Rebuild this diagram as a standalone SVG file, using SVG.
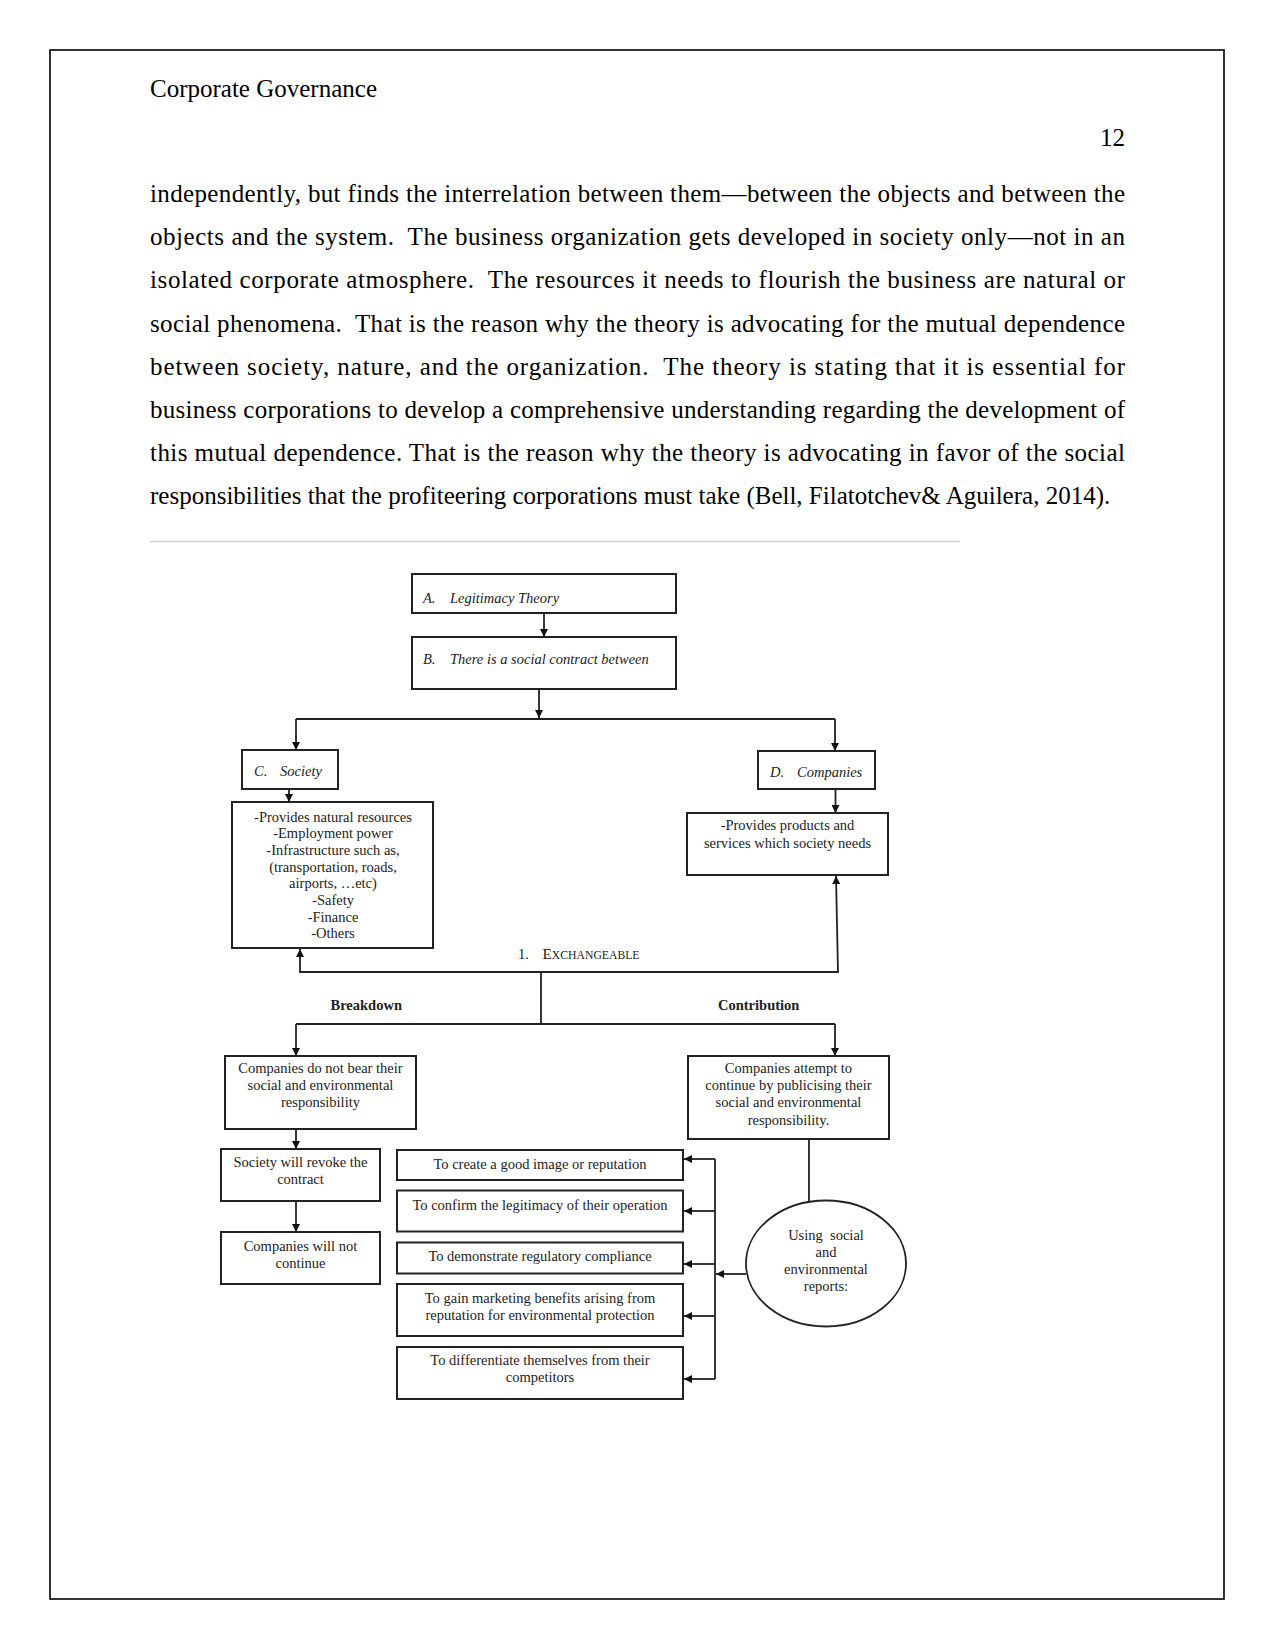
<svg xmlns="http://www.w3.org/2000/svg" width="1275" height="1651" viewBox="0 0 1275 1651">
<style>
.body{font-family:"Liberation Serif","Times New Roman",serif;font-size:25px;fill:#000}
.t{font-family:"Liberation Serif","Times New Roman",serif;font-size:14.5px;fill:#222;text-anchor:middle}
.it{font-family:"Liberation Serif","Times New Roman",serif;font-size:14.5px;font-style:italic;fill:#222}
.b{font-family:"Liberation Serif","Times New Roman",serif;font-size:14.5px;font-weight:bold;fill:#222}
.box{fill:#fff;stroke:#222;stroke-width:2}
.c{fill:none;stroke:#222;stroke-width:1.8}
.ca{fill:none;stroke:#222;stroke-width:1.8;marker-end:url(#ah)}
</style>
<defs>
<marker id="ah" markerUnits="userSpaceOnUse" markerWidth="9" markerHeight="8" refX="8" refY="4" orient="auto">
<path d="M0,0 L8,4 L0,8 z" fill="#111"/>
</marker>
</defs>
<rect x="0" y="0" width="1275" height="1651" fill="#fff"/>
<rect x="50" y="50" width="1174" height="1549" fill="none" stroke="#000" stroke-width="1.6"/>
<g id="page-text">
<text class="body" x="150" y="97">Corporate Governance</text>
<text class="body" x="1125" y="146" text-anchor="end">12</text>
<text class="body" x="150" y="202" textLength="975" lengthAdjust="spacing">independently, but finds the interrelation between them—between the objects and between the</text>
<text class="body" x="150" y="245" textLength="975" lengthAdjust="spacing" xml:space="preserve">objects and the system.  The business organization gets developed in society only—not in an</text>
<text class="body" x="150" y="288" textLength="975" lengthAdjust="spacing" xml:space="preserve">isolated corporate atmosphere.  The resources it needs to flourish the business are natural or</text>
<text class="body" x="150" y="331.5" textLength="975" lengthAdjust="spacing" xml:space="preserve">social phenomena.  That is the reason why the theory is advocating for the mutual dependence</text>
<text class="body" x="150" y="374.5" textLength="975" lengthAdjust="spacing" xml:space="preserve">between society, nature, and the organization.  The theory is stating that it is essential for</text>
<text class="body" x="150" y="418" textLength="975" lengthAdjust="spacing">business corporations to develop a comprehensive understanding regarding the development of</text>
<text class="body" x="150" y="461" textLength="975" lengthAdjust="spacing">this mutual dependence. That is the reason why the theory is advocating in favor of the social</text>
<text class="body" x="150" y="504">responsibilities that the profiteering corporations must take (Bell, Filatotchev&amp; Aguilera, 2014).</text>
</g>
<line x1="150" y1="541.5" x2="960" y2="541.5" stroke="#d4d4d4" stroke-width="1.5"/>
<g id="connectors">
<line class="ca" x1="544" y1="613" x2="544" y2="637"/>
<line class="ca" x1="539" y1="689" x2="539" y2="718"/>
<line class="c" x1="296" y1="719" x2="835" y2="719"/>
<line class="ca" x1="296" y1="719" x2="296" y2="750"/>
<line class="ca" x1="835" y1="719" x2="835" y2="751"/>
<line class="ca" x1="289" y1="789" x2="289" y2="802"/>
<line class="ca" x1="835.5" y1="789" x2="835.5" y2="813"/>
<path class="ca" d="M541,972 H300 V949"/>
<path class="ca" d="M541,972 H838 L836,876"/>
<line class="c" x1="541" y1="972" x2="541" y2="1024"/>
<line class="c" x1="296" y1="1024" x2="835" y2="1024"/>
<line class="ca" x1="296" y1="1024" x2="296" y2="1056"/>
<line class="ca" x1="835" y1="1024" x2="835" y2="1056"/>
<line class="ca" x1="296" y1="1129" x2="296" y2="1149"/>
<line class="ca" x1="296" y1="1201" x2="296" y2="1232"/>
<line class="c" x1="809" y1="1139" x2="809" y2="1202"/>
<line class="ca" x1="746" y1="1274" x2="716" y2="1274"/>
<line class="c" x1="715" y1="1159" x2="715" y2="1379"/>
<line class="ca" x1="715" y1="1159" x2="684" y2="1159"/>
<line class="ca" x1="715" y1="1211" x2="684" y2="1211"/>
<line class="ca" x1="715" y1="1264" x2="684" y2="1264"/>
<line class="ca" x1="715" y1="1316" x2="684" y2="1316"/>
<line class="ca" x1="715" y1="1379" x2="684" y2="1379"/>
</g>
<g id="nodeA">
<rect class="box" x="412" y="574" width="264" height="39"/>
<text class="it" x="423" y="603">A.</text>
<text class="it" x="450" y="603">Legitimacy Theory</text>
</g>
<g id="nodeB">
<rect class="box" x="412" y="637" width="264" height="52"/>
<text class="it" x="423" y="664">B.</text>
<text class="it" x="450" y="664">There is a social contract between</text>
</g>
<g id="nodeC">
<rect class="box" x="242" y="750" width="96" height="39"/>
<text class="it" x="254" y="776">C.</text>
<text class="it" x="280" y="776">Society</text>
</g>
<g id="nodeD">
<rect class="box" x="758" y="751" width="117" height="38"/>
<text class="it" x="770" y="777">D.</text>
<text class="it" x="797" y="777">Companies</text>
</g>
<g id="society-list">
<rect class="box" x="232" y="802" width="201" height="146"/>
<text class="t" x="333" y="821.7">-Provides natural resources</text>
<text class="t" x="333" y="838.4">-Employment power</text>
<text class="t" x="333" y="855">-Infrastructure such as,</text>
<text class="t" x="333" y="871.7">(transportation, roads,</text>
<text class="t" x="333" y="888.3">airports, …etc)</text>
<text class="t" x="333" y="905">-Safety</text>
<text class="t" x="333" y="921.7">-Finance</text>
<text class="t" x="333" y="938.3">-Others</text>
</g>
<g id="companies-list">
<rect class="box" x="687" y="813" width="201" height="62"/>
<text class="t" x="787.5" y="830">-Provides products and</text>
<text class="t" x="787.5" y="847.5">services which society needs</text>
</g>
<g id="exchangeable">
<text x="518" y="959" font-family="Liberation Serif, Times New Roman, serif" font-size="14.5" fill="#222">1.</text>
<text x="542.5" y="959" font-family="Liberation Serif, Times New Roman, serif" fill="#222" textLength="97" lengthAdjust="spacingAndGlyphs"><tspan font-size="15">E</tspan><tspan font-size="11.5">XCHANGEABLE</tspan></text>
</g>
<g id="labels">
<text class="b" x="330.5" y="1009.5">Breakdown</text>
<text class="b" x="718" y="1009.5">Contribution</text>
</g>
<g id="breakdown-box">
<rect class="box" x="225" y="1056" width="191" height="73"/>
<text class="t" x="320.5" y="1073">Companies do not bear their</text>
<text class="t" x="320.5" y="1090">social and environmental</text>
<text class="t" x="320.5" y="1107.3">responsibility</text>
</g>
<g id="contribution-box">
<rect class="box" x="688" y="1056" width="201" height="83"/>
<text class="t" x="788.5" y="1073">Companies attempt to</text>
<text class="t" x="788.5" y="1090">continue by publicising their</text>
<text class="t" x="788.5" y="1107.3">social and environmental</text>
<text class="t" x="788.5" y="1124.7">responsibility.</text>
</g>
<g id="revoke-box">
<rect class="box" x="221" y="1149" width="159" height="52"/>
<text class="t" x="300.5" y="1167">Society will revoke the</text>
<text class="t" x="300.5" y="1184.3">contract</text>
</g>
<g id="not-continue-box">
<rect class="box" x="221" y="1232" width="159" height="52"/>
<text class="t" x="300.5" y="1250.7">Companies will not</text>
<text class="t" x="300.5" y="1268.3">continue</text>
</g>
<g id="purpose1">
<rect class="box" x="397" y="1150" width="286" height="30"/>
<text class="t" x="540" y="1169">To create a good image or reputation</text>
</g>
<g id="purpose2">
<rect class="box" x="397" y="1190.5" width="286" height="41"/>
<text class="t" x="540" y="1210">To confirm the legitimacy of their operation</text>
</g>
<g id="purpose3">
<rect class="box" x="397" y="1242.5" width="286" height="31"/>
<text class="t" x="540" y="1261">To demonstrate regulatory compliance</text>
</g>
<g id="purpose4">
<rect class="box" x="397" y="1284" width="286" height="52"/>
<text class="t" x="540" y="1302.7">To gain marketing benefits arising from</text>
<text class="t" x="540" y="1320">reputation for environmental protection</text>
</g>
<g id="purpose5">
<rect class="box" x="397" y="1347" width="286" height="52"/>
<text class="t" x="540" y="1365">To differentiate themselves from their</text>
<text class="t" x="540" y="1382.3">competitors</text>
</g>
<g id="reports">
<ellipse cx="826" cy="1263.5" rx="80" ry="63" fill="#fff" stroke="#222" stroke-width="1.8"/>
<text class="t" x="826" y="1240" xml:space="preserve">Using  social</text>
<text class="t" x="826" y="1257.3">and</text>
<text class="t" x="826" y="1274.3">environmental</text>
<text class="t" x="826" y="1291.3">reports:</text>
</g>
</svg>
